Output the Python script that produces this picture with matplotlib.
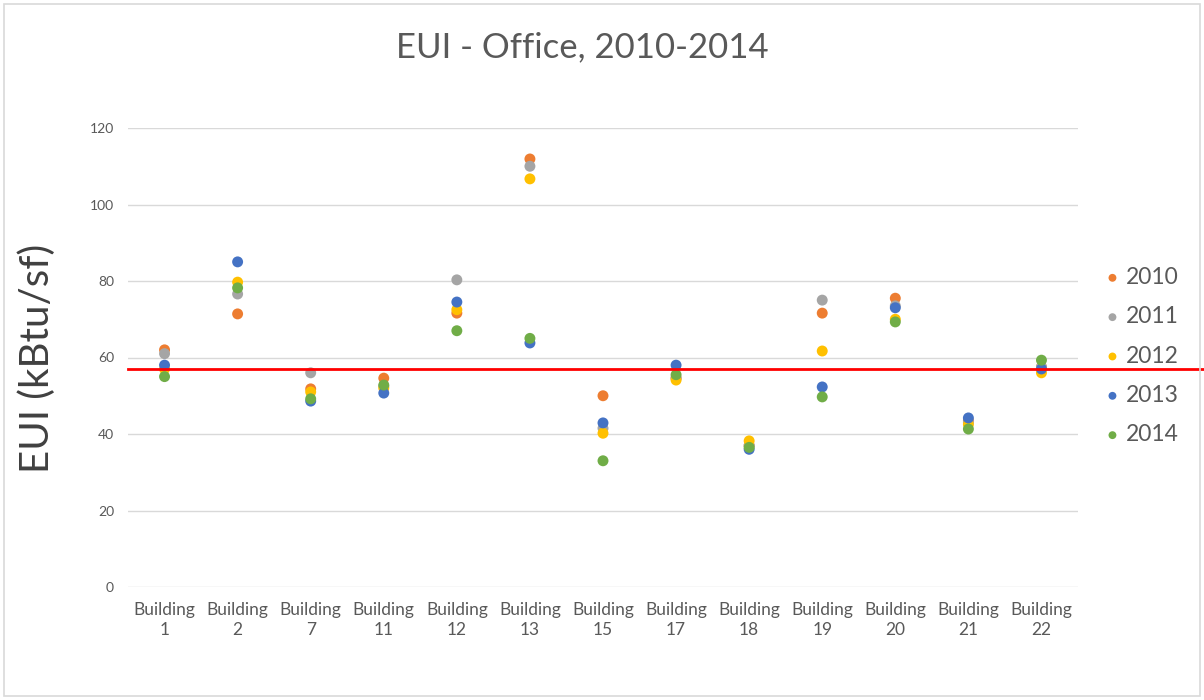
import matplotlib
matplotlib.use("Agg")
import matplotlib.pyplot as plt
from matplotlib.patches import Rectangle
import numpy as np

plt.rcParams['font.family'] = ['Lato', 'DejaVu Sans']

buildings = ["Building\n1", "Building\n2", "Building\n7", "Building\n11", "Building\n12",
             "Building\n13", "Building\n15", "Building\n17", "Building\n18", "Building\n19",
             "Building\n20", "Building\n21", "Building\n22"]
years = ["2010", "2011", "2012", "2013", "2014"]
colors = ["#ED7D31", "#A5A5A5", "#FFC000", "#4472C4", "#70AD47"]

eui_2010 = [62.0, 71.4, 51.8, 54.6, 71.6, 111.9, 50.0, 54.7, 37.0, 71.6, 75.5, 43.5, 57.5]
eui_2011 = [61.0, 76.6, 56.0, 52.5, 80.3, 110.0, 41.5, 54.5, 37.0, 75.0, 73.5, 43.0, 57.5]
eui_2012 = [57.0, 79.7, 51.0, 52.0, 72.5, 106.7, 40.2, 54.1, 38.2, 61.7, 70.0, 42.5, 56.0]
eui_2013 = [58.0, 85.0, 48.6, 50.7, 74.5, 63.8, 42.9, 58.0, 36.0, 52.3, 73.0, 44.2, 57.0]
eui_2014 = [55.0, 78.2, 49.2, 52.8, 67.0, 65.0, 33.0, 55.5, 36.5, 49.7, 69.3, 41.3, 59.3]
series = [eui_2010, eui_2011, eui_2012, eui_2013, eui_2014]
benchmark = 57.0

fig = plt.figure(figsize=(12.04, 7.0), dpi=100)
fig.patches.append(Rectangle((4/1204, 4/700), 1-8/1204, 1-8/700, transform=fig.transFigure,
                             fill=False, edgecolor="#D9D9D9", linewidth=1.2))
L, R, T, B = 128, 1078, 128, 587
ax = fig.add_axes([L/1204, 1-B/700, (R-L)/1204, (B-T)/700])

x = np.arange(len(buildings))
for vals, yr, c in zip(series, years, colors):
    ax.scatter(x, vals, s=62, color=c, label=yr, zorder=3, edgecolors='none')

ax.set_xlim(-0.5, len(buildings)-0.5)
ax.set_ylim(0, 120)
ax.set_yticks(np.arange(0, 121, 20))
ax.yaxis.grid(True, color="#D9D9D9", linewidth=1)
ax.set_axisbelow(True)
for s in ax.spines.values():
    s.set_visible(False)
ax.tick_params(axis='both', length=0, colors="#595959")
ax.tick_params(axis='y', labelsize=10, pad=10)
ax.tick_params(axis='x', labelsize=12.5, pad=11)
ax.set_xticks(x)
ax.set_xticklabels(buildings, linespacing=1.3)

xmax_frac = (1204 - L) / (R - L)
ax.axhline(benchmark, xmin=0, xmax=xmax_frac, color="#FF0000", linewidth=2, clip_on=False, zorder=4)

ax.set_ylabel("EUI (kBtu/sf)", fontsize=29, color="#404040")
ax.yaxis.set_label_coords((56 - L) / (R - L), (B - 358) / (B - T))
fig.text(582/1204, 1-47/700, "EUI - Office, 2010-2014", fontsize=25, color="#595959",
         ha='center', va='center')

leg = ax.legend(loc='center left', bbox_to_anchor=((1101 - L) / (R - L), (B - 356) / (B - T)),
                frameon=False, fontsize=16.5, labelcolor="#595959", handletextpad=0.1,
                labelspacing=0.8, markerscale=0.72, handlelength=1.0, borderaxespad=0.0,
                borderpad=0.0)

fig.savefig("out.png", dpi=100)
